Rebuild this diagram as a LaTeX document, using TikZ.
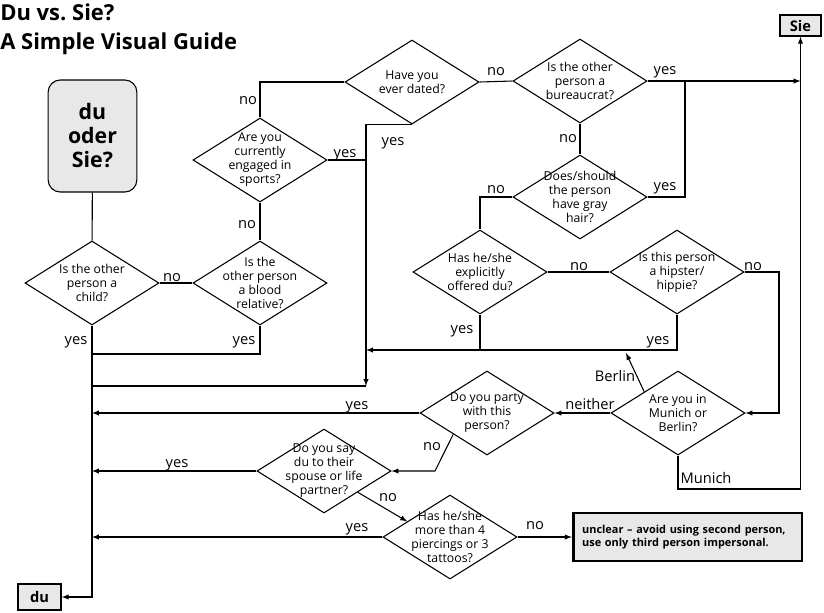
\documentclass[tikz,border=0pt]{standalone}
\usepackage{tikz}
\usetikzlibrary{calc}
\usetikzlibrary{arrows}
\usetikzlibrary{shapes.geometric}
\usepackage{fontspec}
\setmainfont{Open Sans}
\usepackage{color}
\definecolor{boxgray}{RGB}{232, 232, 232}
\tikzset{
    wire/.style={line width=0.8pt},
    flow/.style={line width=0.8pt, -latex},
    question/.style={diamond, draw, line width=0.8pt, minimum width=100.5pt, minimum height=63pt, inner sep=0pt,
                     label={[align=center, font=\fontsize{9.2}{10.5}\selectfont]center:#1}},
    answer/.style={anchor=base, inner sep=0pt, font=\fontsize{11}{13}\selectfont},
    ending/.style={draw, fill=boxgray, line width=1.1pt, inner sep=0pt, font=\bfseries\fontsize{11}{13}\selectfont}
}

\begin{document}
\begin{tikzpicture}[x=0.75pt, y=-0.75pt]
            % Frame to ensure alignment:
            \useasboundingbox                                                  (0, 0) rectangle (824, 612);
            % Title
            \node[anchor=base west, inner sep=0pt, font=\bfseries\fontsize{16.5}{20}\selectfont] (title)    at (0, 20)  {Du vs.\ Sie?};
            \node[anchor=base west, inner sep=0pt, font=\bfseries\fontsize{16.5}{20}\selectfont] (subtitle) at (0, 49)  {A Simple Visual Guide};
            % Start and ends
            \node[draw, fill=boxgray, rounded corners=9pt, line width=0.8pt, minimum width=66.5pt, minimum height=84pt,
                  align=center, font=\bfseries\fontsize{16}{18}\selectfont]                          (start)    at (92.5, 136)  {du\\oder\\Sie?};
            \node[ending, minimum width=30.75pt, minimum height=15.75pt]                              (sie)      at (800.5, 25.5) {Sie};
            \node[ending, minimum width=32.25pt, minimum height=19.5pt]                               (du)       at (39.5, 597)   {du};
            \node[draw, fill=boxgray, line width=2pt, text width=158pt, inner xsep=6.75pt, minimum height=36pt,
                  align=left, font=\bfseries\fontsize{8.2}{10}\selectfont]                            (unclear)  at (687.5, 537)  {unclear -- avoid using second person,\\use only third person impersonal.};
            % Questions
            \node[question={Is the other\\person a\\child?}]                    (child)   at ( 92, 283) {};
            \node[question={Is the\\other person\\a blood\\relative?}]          (blood)   at (260, 283) {};
            \node[question={Are you\\currently\\engaged in\\sports?}]           (sports)  at (260, 160) {};
            \node[question={Have you\\ever dated?}]                              (dated)   at (412,  82) {};
            \node[question={Is the other\\person a\\bureaucrat?}]               (bureau)  at (580,  81) {};
            \node[question={Does/should\\the person\\have gray\\hair?}]         (gray)    at (580, 197) {};
            \node[question={Has he/she\\explicitly\\offered du?}]               (offered) at (480, 272) {};
            \node[question={Is this person\\a hipster/\\hippie?}]               (hipster) at (677, 272) {};
            \node[question={Are you in\\Munich or\\Berlin?}]                    (city)    at (678, 413) {};
            \node[question={Do you party\\with this\\person?}]                  (party)   at (487, 413) {};
            \node[question={Do you say\\du to their\\spouse or life\\partner?}] (spouse)  at (324, 471) {};
            \node[question={Has he/she\\more than 4\\piercings or 3\\tattoos?}] (tattoo)  at (450, 537) {};
            % Corners
            \coordinate (j1) at (366, 160);
            \coordinate (j2) at (366, 386);
            \coordinate (j3) at ( 92, 354);
            \coordinate (j4) at (685,  81);
            \coordinate (j5) at (779, 413);
            \coordinate (j6) at (366, 350);
            \coordinate (j7) at (626, 353);
            \coordinate (j8) at (800.5, 489);
            \coordinate (j9) at (435, 471);
            % Left side
            \draw[wire] (start) -- (child);
            \draw[flow] (child.south) |- (du.east);
            \draw[wire] (child.east) -- (blood.west);
            \draw[wire] (blood.south) |- (j3);
            \draw[wire] (blood.north) -- (sports.south);
            \draw[wire] (sports.north) |- (dated.west);
            \draw[wire] (dated.south) -| (j1) -- (sports.east);
            \draw[flow] (j1) -- (j2);
            \draw[wire] (j2) -- (j2 -| child);
            % Right side
            \draw[wire] (dated.east) -- (bureau.west);
            \draw[flow] (bureau.east) -- (bureau.east -| sie);
            \draw[wire] (bureau.south) -- (gray.north);
            \draw[wire] (gray.east) -| (j4);
            \draw[wire] (gray.west) -| (offered.north);
            \draw[wire] (offered.east) -- (hipster.west);
            \draw[wire] (offered.south) -- (offered.south |- j6);
            \draw[flow] (hipster.south) |- (j6);
            \draw[flow] (hipster.east) -| (j5) -- (city.east);
            \draw[flow] (city.north west) -- (j7);
            \draw[flow] (city.south) |- (j8) -- (sie.south);
            \draw[flow] (city.west) -- (party.east);
            % Bottom
            \draw[flow] (party.west) -- (party.west -| child);
            \draw[flow] (party.south west) -- (j9) -- (spouse.east);
            \draw[flow] (spouse.west) -- (spouse.west -| child);
            \draw[flow] (spouse.south east) -- (tattoo.160);
            \draw[flow] (tattoo.west) -- (tattoo.west -| child);
            \draw[flow] (tattoo.east) -- (unclear.west);
            % Answers
            \node[answer] (noChild)    at (172, 281) {no};
            \node[answer] (yesChild)   at ( 76, 344) {yes};
            \node[answer] (noBlood)    at (247, 228) {no};
            \node[answer] (yesBlood)   at (244, 344) {yes};
            \node[answer] (noSports)   at (248, 104) {no};
            \node[answer] (yesSports)  at (345, 157) {yes};
            \node[answer] (yesDated)   at (393, 145) {yes};
            \node[answer] (noDated)    at (496,  75) {no};
            \node[answer] (yesBureau)  at (665,  74) {yes};
            \node[answer] (noBureau)   at (568, 142) {no};
            \node[answer] (yesGray)    at (665, 190) {yes};
            \node[answer] (noGray)     at (496, 193) {no};
            \node[answer] (noOffered)  at (579, 270) {no};
            \node[answer] (yesOffered) at (462, 333) {yes};
            \node[answer] (noHipster)  at (753, 270) {no};
            \node[answer] (yesHipster) at (658, 344) {yes};
            \node[answer] (berlin)     at (615, 381) {Berlin};
            \node[answer] (neither)    at (590, 409) {neither};
            \node[answer] (munich)     at (706, 483) {Munich};
            \node[answer] (yesParty)   at (357, 409) {yes};
            \node[answer] (noParty)    at (432, 450) {no};
            \node[answer] (yesSpouse)  at (177, 467) {yes};
            \node[answer] (noSpouse)   at (388, 501) {no};
            \node[answer] (yesTattoo)  at (357, 531) {yes};
            \node[answer] (noTattoo)   at (535, 529) {no};
\end{tikzpicture}
\end{document}
